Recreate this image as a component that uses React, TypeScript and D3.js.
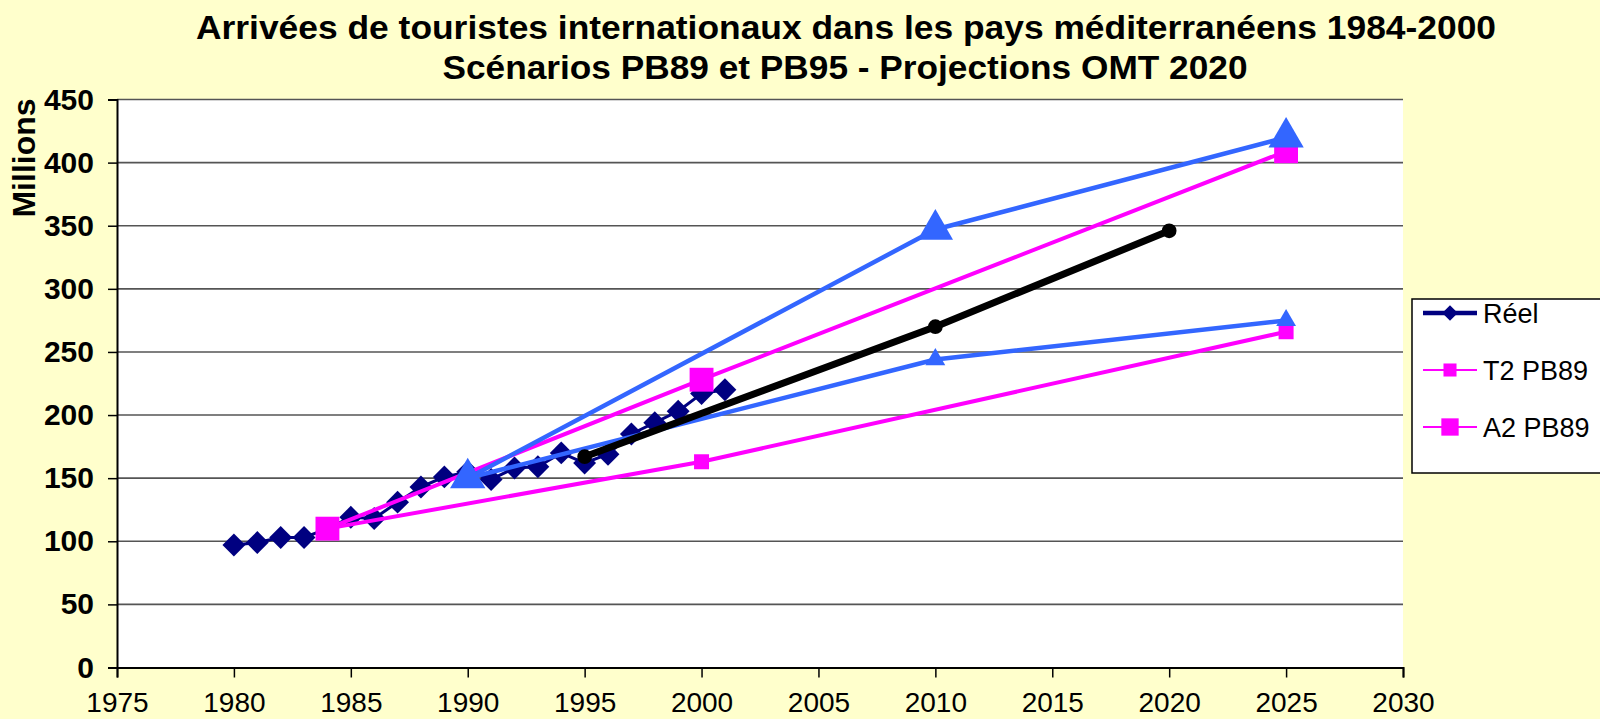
import React, { useEffect, useRef } from 'react'
import * as d3 from 'd3'

// real arrivals (millions)
const reelYears = [1980,1981,1982,1983,1984,1985,1986,1987,1988,1989,1990,1991,1992,1993,1994,1995,1996,1997,1998,1999,2000,2001]
const reelValues = [97,99,103,103,110,119,118,131,143,151,155,149,158,159,170,162,169,185,194,203,217,220]

// scenarios PB89 (pink)
const t2Years = [1984,2000,2025]
const t2Values = [110,163,266]
const a2Years = [1984,2000,2025]
const a2Values = [110,228,409]

// scenarios PB95 (blue)
const lowYears = [1990,2010,2025]
const lowValues = [150,244,275]
const highYears = [1990,2010,2025]
const highValues = [150,347,420]

// OMT 2020 projection
const omtYears = [1995,2010,2020]
const omtValues = [167,270,346]

const yTicks = [0,50,100,150,200,250,300,350,400,450]
const xTicks = [1975,1980,1985,1990,1995,2000,2005,2010,2015,2020,2025,2030]
const legendLabels = ['Réel','T2 PB89','A2 PB89']

function App() {
  let svgRef = useRef<SVGSVGElement>(null)

  useEffect(()=>{
    const width = 1600
    const height = 719
    const left = 117, right = 1403, top = 99.5, bottom = 667.5
    const font = '"Liberation Sans", Arial, sans-serif'

    const svg = d3.select(svgRef.current)
    svg.selectAll('*').remove()
    svg.attr('width',width).attr('height',height)

    svg.append('rect').attr('width',width).attr('height',height).attr('fill','#ffffcc')
    svg.append('rect')
      .attr('x',left).attr('y',top).attr('width',right-left).attr('height',bottom-top)
      .attr('fill','#fff')

    const xScale = d3.scaleLinear().domain([1975,2030]).range([left,right])
    const yScale = d3.scaleLinear().domain([0,450]).range([bottom,top])

    //grid
    svg.append('g').selectAll('line').data(yTicks.filter(d=>d>0)).join('line')
      .attr('x1',left).attr('x2',right)
      .attr('y1',d=>yScale(d)).attr('y2',d=>yScale(d))
      .attr('stroke','#555').attr('stroke-width',1.6)

    //axes
    const gx = svg.append('g').attr('transform',`translate(0,${bottom})`)
      .call(d3.axisBottom(xScale).tickValues(xTicks).tickFormat(d3.format('d')).tickSizeOuter(0).tickSize(10).tickPadding(15))
    gx.select('.domain').attr('stroke','#000').attr('stroke-width',2)
    gx.selectAll('.tick line').attr('stroke','#000').attr('stroke-width',1.5)
    gx.selectAll('text').attr('font-family',font)
      .attr('font-size',28).attr('fill','#000')

    const gy = svg.append('g').attr('transform',`translate(${left},0)`)
      .call(d3.axisLeft(yScale).tickValues(yTicks).tickSizeOuter(0).tickSize(9).tickPadding(14))
    gy.select('.domain').attr('stroke','#000').attr('stroke-width',2)
    gy.selectAll('.tick line').attr('stroke','#000').attr('stroke-width',1.5)
    gy.selectAll('text').attr('font-family',font)
      .attr('font-size',30).attr('font-weight','bold').attr('fill','#000')

    svg.append('text')
      .attr('transform','translate(35,158) rotate(-90)')
      .attr('text-anchor','middle')
      .attr('font-family',font)
      .attr('font-size',32).attr('font-weight','bold')
      .text('Millions')

    //title
    const title = svg.append('text')
      .attr('text-anchor','middle')
      .attr('font-family',font)
      .attr('font-size',34).attr('font-weight','bold')
    title.append('tspan').attr('x',846).attr('y',39)
      .attr('textLength',1300).attr('lengthAdjust','spacingAndGlyphs')
      .text('Arrivées de touristes internationaux dans les pays méditerranéens 1984-2000')
    title.append('tspan').attr('x',845).attr('y',79)
      .attr('textLength',805).attr('lengthAdjust','spacingAndGlyphs')
      .text('Scénarios PB89 et PB95 - Projections OMT 2020')

    const zip = (xs:number[],ys:number[]) => xs.map((x,i)=>[x,ys[i]] as [number,number])
    const line = d3.line<[number,number]>().x(d=>xScale(d[0])).y(d=>yScale(d[1]))

    const drawSeries = (pts:[number,number][], color:string, lw:number, symbol:any, size:number) => {
      const g = svg.append('g')
      g.append('path').datum(pts).attr('d',line)
        .attr('fill','none').attr('stroke',color).attr('stroke-width',lw).attr('stroke-linejoin','round')
      g.selectAll('path.m').data(pts).join('path')
        .attr('class','m')
        .attr('transform',d=>`translate(${xScale(d[0])},${yScale(d[1])})`)
        .attr('d',d3.symbol().type(symbol).size(size)())
        .attr('fill',color)
    }

    const diamond = { draw(ctx:any, size:number){ const r = Math.sqrt(size)/2*1.42; ctx.moveTo(0,-r); ctx.lineTo(r,0); ctx.lineTo(0,r); ctx.lineTo(-r,0); ctx.closePath() } }

    drawSeries(zip(reelYears,reelValues),'#000080',3,diamond,260)
    drawSeries(zip(t2Years,t2Values),'#ff00ff',4,d3.symbolSquare,225)
    drawSeries(zip(a2Years,a2Values),'#ff00ff',4,d3.symbolSquare,570)
    drawSeries(zip(lowYears,lowValues),'#3366ff',4.5,d3.symbolTriangle,170)
    drawSeries(zip(highYears,highValues),'#3366ff',4.5,d3.symbolTriangle,540)
    drawSeries(zip(omtYears,omtValues),'#000',7,d3.symbolCircle,170)

    //legend
    const lg = svg.append('g')
    lg.append('rect').attr('x',1412).attr('y',299).attr('width',200).attr('height',174)
      .attr('fill','#fff').attr('stroke','#000').attr('stroke-width',1.5)
    const legendColors = ['#000080','#ff00ff','#ff00ff']
    const legendWidths = [4.5,2,2]
    const legendSym = [diamond,d3.symbolSquare,d3.symbolSquare]
    const legendSize = [120,170,300]
    legendLabels.forEach((lab,i)=>{
      const y = 313 + i*57
      lg.append('line').attr('x1',1423).attr('x2',1477).attr('y1',y).attr('y2',y)
        .attr('stroke',legendColors[i]).attr('stroke-width',legendWidths[i])
      lg.append('path').attr('transform',`translate(1450,${y})`)
        .attr('d',d3.symbol().type(legendSym[i]).size(legendSize[i])())
        .attr('fill',legendColors[i])
      lg.append('text').attr('x',1483).attr('y',y+10)
        .attr('font-family',font)
        .attr('font-size',27).text(lab)
    })
  },[])

  return (
    <svg ref={svgRef} style={{position:'absolute',left:0,top:0,display:'block'}}></svg>
  )
}

export default App
